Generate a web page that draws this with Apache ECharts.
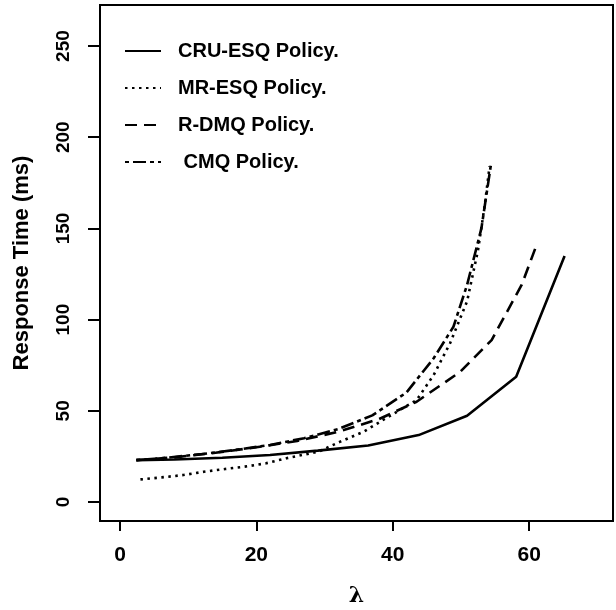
<!DOCTYPE html>
<html>
<head>
<meta charset="utf-8">
<script src="https://cdn.jsdelivr.net/npm/echarts@6/dist/echarts.min.js"></script>
<style>html,body{margin:0;padding:0;background:#fff;}#c{width:616px;height:610px;}</style>
</head>
<body>
<div id="c"></div>
<script>
var seriesNames = ['CRU-ESQ Policy.', 'MR-ESQ Policy.', 'R-DMQ Policy.', ' CMQ Policy.'];
var cruEsq = [[2.4,23],[8,23.3],[15,24.3],[22,25.8],[29,28.2],[36.4,31],[43.8,36.7],[50.9,47.3],[58.1,68.7],[65.2,134.9]];
var mrEsq = [[3,12.4],[6.1,13.5],[9.3,14.8],[12.3,16.6],[15.4,18.1],[18.3,19.4],[21.4,21.2],[24.4,24],[29.1,27.6],[32.3,33.1],[35.7,38.5],[39.4,46.8],[43.5,55.9],[46,69.6],[48.4,87],[50.9,110],[52.5,138],[53.5,163],[54.2,184]];
var rDmq = [[2.4,23],[8,24.5],[14,27],[20,30],[26,33.5],[32,38.5],[38,45.5],[43.5,55],[49.9,71.4],[54.5,88.8],[58.9,119],[61.2,142]];
var cmq = [[2.4,23],[7,24.3],[12,26.3],[17,28.6],[22,31.3],[27,35],[32,40],[37,47.5],[42,60],[46,78.8],[48.9,96.1],[50.9,119],[53,150],[54.4,185]];
var xTicks = [0, 20, 40, 60];
var yTicks = [0, 50, 100, 150, 200, 250];

var chart = echarts.init(document.getElementById('c'), null, {renderer: 'canvas'});
var lineDefs = [
  {name: seriesNames[0], data: cruEsq, type: 'solid'},
  {name: seriesNames[1], data: mrEsq, type: [2.5, 4.5]},
  {name: seriesNames[2], data: rDmq, type: [12, 7]},
  {name: seriesNames[3], data: cmq, type: [4, 4, 13, 4]}
];
chart.setOption({
  animation: false,
  backgroundColor: '#fff',
  grid: {left: 100, right: 3, top: 5, bottom: 89, show: true, borderColor: '#000', borderWidth: 2, backgroundColor: 'transparent', containLabel: false, outerBoundsMode: 'none'},
  legend: {
    orient: 'vertical', left: 119, top: 36,
    itemWidth: 36, itemHeight: 14, itemGap: 17,
    data: seriesNames,
    itemStyle: {color: 'transparent', borderColor: 'transparent', borderWidth: 0, opacity: 0},
    textStyle: {fontFamily: 'Liberation Sans, Arial', fontWeight: 'bold', fontSize: 20, color: '#000', lineHeight: 20, padding: [0, 0, 0, 12]}
  },
  xAxis: {
    type: 'value', min: -2.93, max: 72.3,
    name: 'λ', nameLocation: 'middle', nameGap: 75,
    nameTextStyle: {fontFamily: 'DejaVu Serif', fontWeight: 'bold', fontSize: 22, color: '#000', lineHeight: 22, verticalAlign: 'middle'},
    axisLine: {show: false, onZero: false},
    splitLine: {show: false},
    axisTick: {show: true, length: 10, lineStyle: {color: '#000', width: 2}, customValues: xTicks},
    axisLabel: {customValues: xTicks, margin: 24, fontFamily: 'Liberation Sans, Arial', fontWeight: 'bold', fontSize: 21, color: '#000'}
  },
  yAxis: {
    type: 'value', min: -10.4, max: 272.5,
    name: 'Response Time (ms)', nameLocation: 'middle', nameGap: 67, nameRotate: 90,
    nameTextStyle: {fontFamily: 'Liberation Sans, Arial', fontWeight: 'bold', fontSize: 22, color: '#000'},
    axisLine: {show: false, onZero: false},
    splitLine: {show: false},
    axisTick: {show: true, length: 12, lineStyle: {color: '#000', width: 2}, customValues: yTicks},
    axisLabel: {customValues: yTicks, rotate: 90, margin: 27, fontFamily: 'Liberation Sans, Arial', fontWeight: 'bold', fontSize: 19, color: '#000'}
  },
  series: lineDefs.map(function (d) {
    return {
      name: d.name, type: 'line', data: d.data, symbol: 'none', smooth: false,
      lineStyle: {color: '#000', width: 2.6, type: d.type},
      itemStyle: {color: '#000'}
    };
  })
});
</script>
</body>
</html>
